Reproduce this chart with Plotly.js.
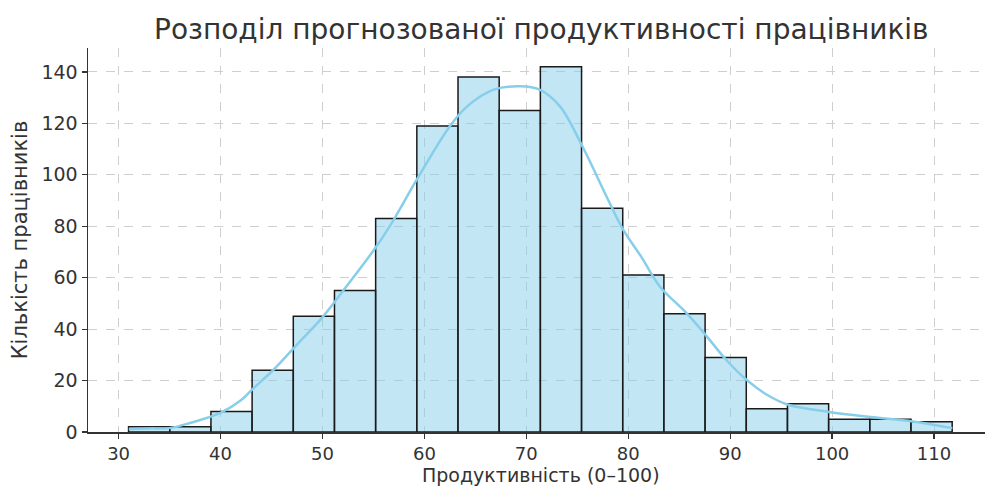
<!DOCTYPE html>
<html>
<head>
<meta charset="utf-8">
<script src="https://cdn.plot.ly/plotly-3.0.1.min.js"></script>
<style>html,body{margin:0;padding:0;background:#fff;}#chart{width:986px;height:486px;}</style>
</head>
<body>
<div id="chart"></div>
<script>
// Histogram bin edges
const binEdges = [30.98, 35.02, 39.06, 43.10, 47.14, 51.18, 55.22, 59.26, 63.30, 67.34, 71.38,
                  75.42, 79.46, 83.50, 87.54, 91.58, 95.62, 99.66, 103.70, 107.74, 111.78];
// Counts per bin
const counts = [2, 2, 8, 24, 45, 55, 83, 119, 138, 125, 142, 87, 61, 46, 29, 9, 11, 5, 5, 4];
// KDE curve points
const kdeX = [31.0, 33.0, 35.1, 37.0, 40.0, 42.0, 43.1, 45.2, 47.5, 49.8, 52.1, 55.3, 57.0, 59.25,
              62.5, 64.2, 66.8, 69.4, 71.3, 73.3, 75.5, 78.0, 79.5, 81.3, 83.1, 85.7, 87.7, 89.6,
              91.6, 93.6, 95.7, 99.7, 103.8, 107.9, 111.8];
const kdeY = [1.2, 1.4, 1.6, 3.5, 7.4, 12.3, 16.5, 24.2, 34.0, 43.7, 55.3, 72.2, 82.6, 98.1,
              118.9, 126.6, 133.1, 134.4, 133.1, 126.6, 111.1, 90.5, 78.7, 68.0, 56.6, 46.3, 37.2, 28.1,
              20.3, 14.5, 10.6, 7.8, 5.8, 4.1, 1.5];
const xTicks = [30, 40, 50, 60, 70, 80, 90, 100, 110];
const yTicks = [0, 20, 40, 60, 80, 100, 120, 140];

const titleText = 'Розподіл прогнозованої продуктивності працівників';
const xTitle = 'Продуктивність (0–100)';
const yTitle = 'Кількість працівників';

const centers = counts.map((c, i) => (binEdges[i] + binEdges[i + 1]) / 2);
const widths = counts.map((c, i) => binEdges[i + 1] - binEdges[i]);

const font = 'DejaVu Sans, sans-serif';
const txt = '#333333';

const traces = [
  {
    type: 'bar', x: centers, y: counts, width: widths,
    marker: {color: 'rgba(135,206,235,0.5)', line: {color: '#1a1a1a', width: 1.5}},
    hoverinfo: 'x+y', showlegend: false
  },
  {
    type: 'scatter', mode: 'lines', x: kdeX, y: kdeY,
    line: {color: '#87CEEB', width: 2.5, shape: 'spline', smoothing: 1},
    showlegend: false
  }
];

const layout = {
  width: 986, height: 486,
  margin: {l: 88, r: 1, t: 48, b: 54},
  paper_bgcolor: '#fff', plot_bgcolor: '#fff',
  font: {family: font, color: txt, size: 18},
  title: {text: titleText, font: {family: font, size: 28, color: txt}, x: 0.549, xanchor: 'center', y: 0.94, yanchor: 'middle'},
  bargap: 0,
  xaxis: {
    range: [27.0, 115.0], tickvals: xTicks, ticktext: xTicks.map(String),
    showgrid: true, gridcolor: '#cfcfcf', griddash: 'dash', gridwidth: 1,
    showline: true, linecolor: '#333', linewidth: 1.5, mirror: false,
    ticks: 'outside', ticklen: 5, tickcolor: '#333', tickwidth: 1.2,
    zeroline: false, tickfont: {size: 18, color: txt}
  },
  yaxis: {
    range: [0, 149.3], tickvals: yTicks, ticktext: yTicks.map(String),
    showgrid: true, gridcolor: '#cfcfcf', griddash: 'dash', gridwidth: 1,
    showline: true, linecolor: '#333', linewidth: 1.5, mirror: false,
    ticks: 'outside', ticklen: 5, tickcolor: '#333', tickwidth: 1.2,
    zeroline: false, tickfont: {size: 19, color: txt},
    title: {text: yTitle, font: {size: 21, color: txt}, standoff: 8}
  },
  annotations: [{
    text: xTitle, xref: 'paper', yref: 'paper', x: 0.505, y: -0.1107,
    xanchor: 'center', yanchor: 'middle', showarrow: false,
    font: {family: font, size: 19, color: txt}
  }]
};

Plotly.newPlot('chart', traces, layout, {displayModeBar: false, staticPlot: true});
</script>
</body>
</html>
